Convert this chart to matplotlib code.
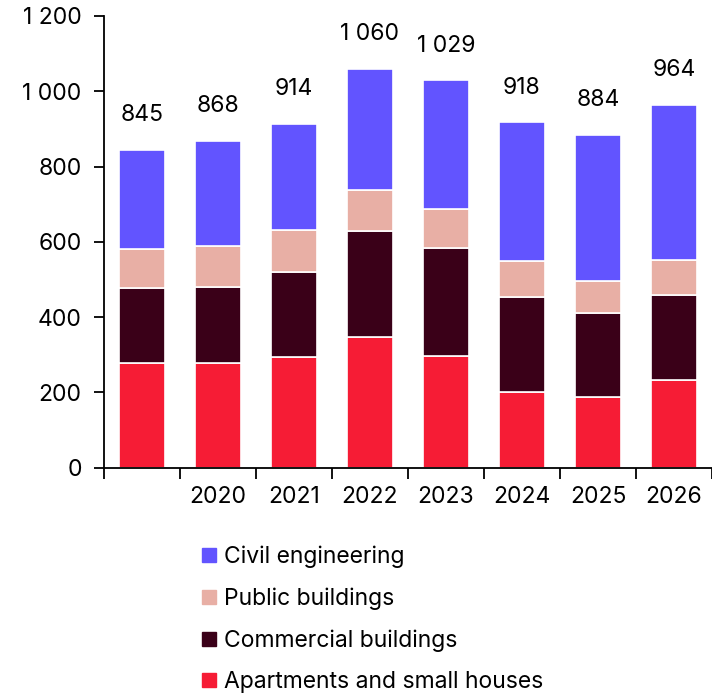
import matplotlib.pyplot as plt
from matplotlib.lines import Line2D
import numpy as np

# Data
years = ['', '2020', '2021', '2022', '2023', '2024', '2025', '2026']
apartments = [278, 277, 295, 348, 297, 200, 187, 233]
commercial = [200, 203, 225, 280, 286, 254, 223, 227]
public = [103, 109, 112, 109, 103, 94, 86, 92]
totals = [845, 868, 914, 1060, 1029, 918, 884, 964]
civil = [t - a - c - p for t, a, c, p in zip(totals, apartments, commercial, public)]

series = [('Apartments and small houses', apartments, '#F61C35'),
          ('Commercial buildings', commercial, '#3A0018'),
          ('Public buildings', public, '#E8AFA5'),
          ('Civil engineering', civil, '#6254FF')]

plt.rcParams['font.family'] = ['Inter', 'DejaVu Sans']
FS = 16.5

fig = plt.figure(figsize=(7.12, 6.93), dpi=100)
ax = fig.add_axes([0.146, 0.325, 0.854, 0.652])

x = np.arange(len(years))
bottom = np.zeros(len(years))
for name, vals, col in series:
    ax.bar(x, vals, width=0.6, bottom=bottom, color=col, edgecolor='white', linewidth=1.2)
    bottom += np.array(vals)

def fmt(v):
    s = f'{v:,}'
    return s.replace(',', ' ')

for xi, t in zip(x, totals):
    ax.annotate(fmt(t), (xi, t), xytext=(0, 17), textcoords='offset points',
                ha='center', va='bottom', fontsize=FS)

ax.set_xlim(-0.5, len(years) - 0.5)
ax.set_ylim(0, 1200)
ax.set_yticks(range(0, 1201, 200))
ax.set_yticklabels([fmt(v) for v in range(0, 1201, 200)])

# ticks at category boundaries, labels at bar centres
ax.set_xticks(np.arange(-0.5, len(years), 1))
ax.set_xticklabels([])
ax.set_xticks(x, minor=True)
ax.set_xticklabels(years, minor=True)
ax.tick_params(axis='x', which='major', length=8, width=1.3)
ax.tick_params(axis='x', which='minor', length=0, pad=13, labelsize=FS)
ax.tick_params(axis='y', length=7, width=1.3, labelsize=FS, pad=9)

for s in ['top', 'right']:
    ax.spines[s].set_visible(False)
for s in ['left', 'bottom']:
    ax.spines[s].set_linewidth(1.3)

handles = [Line2D([], [], marker='s', linestyle='none', markersize=10,
                  color=col, label=name) for name, vals, col in series[::-1]]
fig.legend(handles=handles, loc='upper left', bbox_to_anchor=(0.27, 0.226),
           frameon=False, fontsize=FS, handlelength=0.7, handletextpad=0.3,
           labelspacing=0.84, borderaxespad=0)

fig.savefig('out.png', dpi=100)
